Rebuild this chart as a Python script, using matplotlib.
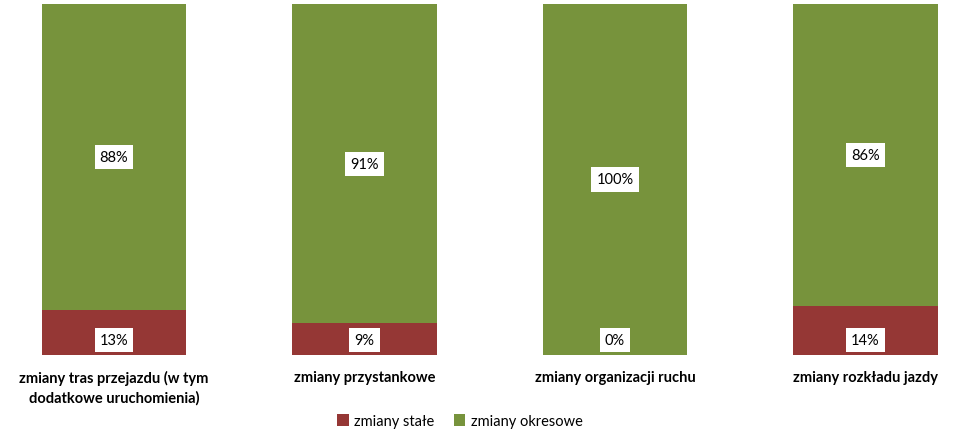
import numpy as np
import matplotlib.pyplot as plt

plt.rcParams['font.family'] = ['Lato', 'DejaVu Sans']

# category labels and the two series (percent labels as shown)
categories = ['zmiany tras przejazdu (w tym\ndodatkowe uruchomienia)',
              'zmiany przystankowe',
              'zmiany organizacji ruchu',
              'zmiany rozkładu jazdy']
stale = [13, 9, 0, 14]
okresowe = [88, 91, 100, 86]
series_names = ['zmiany stałe', 'zmiany okresowe']

red = '#953735'
green = '#77933C'


def main():
	fig = plt.figure(figsize=(9.55, 4.35), dpi=100)
	ax = fig.add_axes([0, 79 / 435, 1, 351 / 435])

	s = np.array(stale, dtype=float)
	o = np.array(okresowe, dtype=float)
	total = s + o
	s_frac = s / total
	o_frac = o / total
	x = np.arange(len(categories))
	w = 0.575

	ax.bar(x, s_frac, w, color=red, label=series_names[0])
	ax.bar(x, o_frac, w, bottom=s_frac, color=green, label=series_names[1])

	box = dict(boxstyle='square,pad=0.35', fc='white', ec='none')
	for i in x:
		# red labels sit at the base of the bar
		ax.annotate('%d%%' % stale[i], (i, 0), xytext=(0, 15), textcoords='offset pixels',
			ha='center', va='center', fontsize=10.5, bbox=box)
		ax.text(i, s_frac[i] + o_frac[i] / 2, '%d%%' % okresowe[i],
			ha='center', va='center', fontsize=10.5, bbox=box)

	ax.set_xlim(-114 / 250.5, 841 / 250.5)
	ax.set_ylim(0, 1)
	ax.set_xticks(x)
	ax.set_xticklabels(categories, fontsize=10.5, fontweight='bold', linespacing=1.45)
	ax.tick_params(axis='x', length=0, pad=11)
	ax.set_yticks([])
	for sp in ax.spines.values():
		sp.set_visible(False)

	fig.legend(loc='center', bbox_to_anchor=(460 / 955, 13 / 435), ncol=2, frameon=False,
		fontsize=10.5, handlelength=0.8, handleheight=0.8, handletextpad=0.4, columnspacing=1.3)

	fig.savefig('out.png', dpi=100)


main()
